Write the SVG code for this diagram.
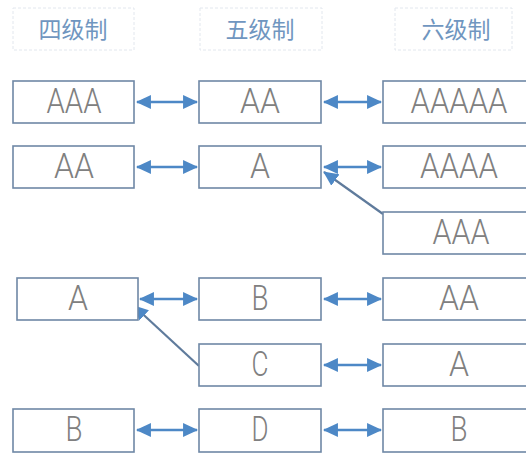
<svg xmlns="http://www.w3.org/2000/svg" width="526" height="453" viewBox="0 0 526 453">
<defs>
<style>
.hdr{fill:none;stroke:#e2e7ee;stroke-width:1;stroke-dasharray:3 2}
.ht{font-family:"Noto Sans CJK SC","Noto Sans CJK JP",sans-serif;font-size:23px;fill:#7096c0;text-anchor:middle}
.box{fill:#ffffff;stroke:#6f88a6;stroke-width:1.6}
.lbl{font-family:Roboto,"DejaVu Sans","Liberation Sans",sans-serif;font-weight:300;font-size:35px;fill:#808080;text-anchor:middle}
.h{stroke:#4d88c6;stroke-width:2.6;fill:none;marker-start:url(#ah);marker-end:url(#ah)}
.d{stroke:#5f7b9c;stroke-width:2.2;fill:none;marker-end:url(#ah)}
</style>
<marker id="ah" viewBox="0 0 14 13" refX="13" refY="6.5" markerWidth="15" markerHeight="14" markerUnits="userSpaceOnUse" orient="auto-start-reverse">
<path d="M0,0 L14,6.5 L0,13 Z" fill="#4d88c6"/>
</marker>
</defs>
<rect width="526" height="453" fill="#ffffff"/>
<g id="headers">
<g id="h4"><rect class="hdr" x="13" y="8" width="121" height="42"/><text class="ht" x="73" y="38">四级制</text></g>
<g id="h5"><rect class="hdr" x="200" y="8" width="122" height="42"/><text class="ht" x="260" y="38">五级制</text></g>
<g id="h6"><rect class="hdr" x="395" y="8" width="117" height="42"/><text class="ht" x="456" y="38">六级制</text></g>
</g>
<g id="connectors">
<line class="h" x1="137" y1="102" x2="197" y2="102"/>
<line class="h" x1="324" y1="102" x2="381" y2="102"/>
<line class="h" x1="137" y1="167" x2="197" y2="167"/>
<line class="h" x1="324" y1="167" x2="381" y2="167"/>
<line class="d" x1="383" y1="214" x2="324" y2="172"/>
<line class="h" x1="140" y1="299" x2="197" y2="299"/>
<line class="h" x1="324" y1="299" x2="381" y2="299"/>
<line class="d" x1="199" y1="366" x2="134" y2="306"/>
<line class="h" x1="324" y1="365" x2="381" y2="365"/>
<line class="h" x1="137" y1="430" x2="197" y2="430"/>
<line class="h" x1="324" y1="430" x2="381" y2="430"/>
</g>
<g id="n1a"><rect class="box" x="13" y="81" width="121" height="42"/><text class="lbl" x="74" y="113" textLength="55" lengthAdjust="spacingAndGlyphs">AAA</text></g>
<g id="n1b"><rect class="box" x="199" y="81" width="122" height="42"/><text class="lbl" x="260" y="113" textLength="40" lengthAdjust="spacingAndGlyphs">AA</text></g>
<g id="n1c"><rect class="box" x="383" y="81" width="152" height="42"/><text class="lbl" x="459" y="113" textLength="97" lengthAdjust="spacingAndGlyphs">AAAAA</text></g>
<g id="n2a"><rect class="box" x="13" y="146" width="121" height="42"/><text class="lbl" x="74" y="178" textLength="40" lengthAdjust="spacingAndGlyphs">AA</text></g>
<g id="n2b"><rect class="box" x="199" y="146" width="122" height="42"/><text class="lbl" x="260" y="178" textLength="20" lengthAdjust="spacingAndGlyphs">A</text></g>
<g id="n2c"><rect class="box" x="383" y="146" width="152" height="42"/><text class="lbl" x="459" y="178" textLength="78" lengthAdjust="spacingAndGlyphs">AAAA</text></g>
<g id="n3c"><rect class="box" x="383" y="212" width="152" height="42"/><text class="lbl" x="461" y="244" textLength="57" lengthAdjust="spacingAndGlyphs">AAA</text></g>
<g id="n4a"><rect class="box" x="17" y="278" width="121" height="42"/><text class="lbl" x="78" y="310" textLength="20" lengthAdjust="spacingAndGlyphs">A</text></g>
<g id="n4b"><rect class="box" x="199" y="278" width="122" height="42"/><text class="lbl" x="260" y="310" textLength="17" lengthAdjust="spacingAndGlyphs">B</text></g>
<g id="n4c"><rect class="box" x="383" y="278" width="152" height="42"/><text class="lbl" x="459" y="310" textLength="40" lengthAdjust="spacingAndGlyphs">AA</text></g>
<g id="n5b"><rect class="box" x="199" y="344" width="122" height="42"/><text class="lbl" x="260" y="376" textLength="17" lengthAdjust="spacingAndGlyphs">C</text></g>
<g id="n5c"><rect class="box" x="383" y="344" width="152" height="42"/><text class="lbl" x="459" y="376" textLength="20" lengthAdjust="spacingAndGlyphs">A</text></g>
<g id="n6a"><rect class="box" x="13" y="409" width="121" height="43"/><text class="lbl" x="74" y="441" textLength="17" lengthAdjust="spacingAndGlyphs">B</text></g>
<g id="n6b"><rect class="box" x="199" y="409" width="122" height="43"/><text class="lbl" x="260" y="441" textLength="17" lengthAdjust="spacingAndGlyphs">D</text></g>
<g id="n6c"><rect class="box" x="383" y="409" width="152" height="43"/><text class="lbl" x="459" y="441" textLength="17" lengthAdjust="spacingAndGlyphs">B</text></g>
</svg>
